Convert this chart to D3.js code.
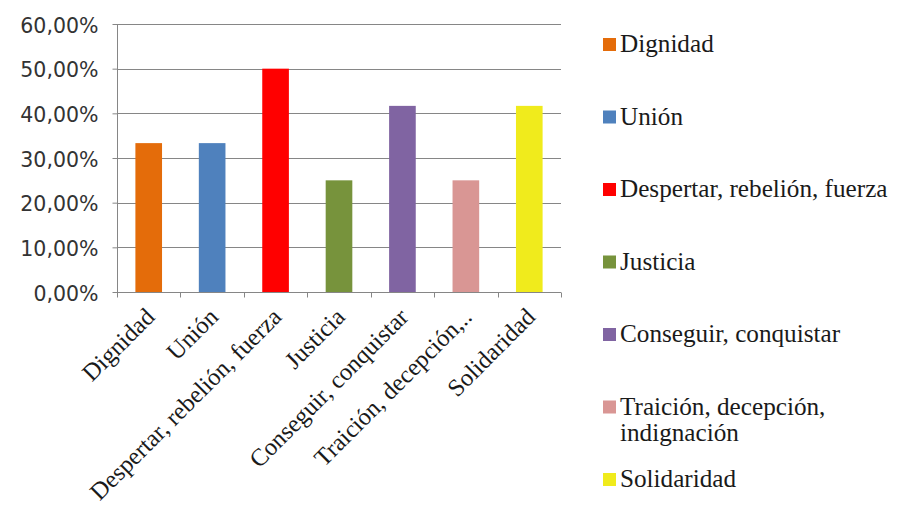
<!DOCTYPE html>
<html>
<head>
<meta charset="utf-8">
<script src="https://cdn.jsdelivr.net/npm/d3@7"></script>
<style>
html,body{margin:0;padding:0;background:#fff;}
svg{display:block;}
.serif{font-family:'Liberation Serif','Times New Roman',serif;}
</style>
</head>
<body>
<svg id="chart" width="898" height="508"></svg>
<script>
const categories = ["Dignidad", "Unión", "Despertar, rebelión, fuerza", "Justicia", "Conseguir, conquistar", "Traición, decepción, indignación", "Solidaridad"];
const axisLabels = ["Dignidad", "Unión", "Despertar, rebelión, fuerza", "Justicia", "Conseguir, conquistar", "Traición, decepción,..", "Solidaridad"];
const legendLines = [["Dignidad"], ["Unión"], ["Despertar, rebelión, fuerza"], ["Justicia"], ["Conseguir, conquistar"], ["Traición, decepción,", "indignación"], ["Solidaridad"]];
const values = [0.3333, 0.3333, 0.5, 0.25, 0.4167, 0.25, 0.4167];
const colors = ["#E46C0A", "#4F81BD", "#FF0000", "#77933C", "#8064A2", "#D99694", "#F0EB1C"];
const yTicks = [0, 0.1, 0.2, 0.3, 0.4, 0.5, 0.6];

(function () {
const svg = d3.select("#chart");
const pL = 117, pR = 561, pT = 24, pB = 292;

const x = d3.scaleBand().domain(categories).range([pL, pR]).padding(0);
const y = d3.scaleLinear().domain([0, 0.6]).range([pB, pT]);
const fmt = v => d3.format(".2f")(v * 100).replace(".", ",") + "%";

// gridlines
svg.append("g").selectAll("line").data(yTicks.filter(d => d > 0)).join("line")
  .attr("x1", pL).attr("x2", pR)
  .attr("y1", d => Math.round(y(d)) + 0.5).attr("y2", d => Math.round(y(d)) + 0.5)
  .attr("stroke", "#868686").attr("stroke-width", 1);

// y axis
const yAxis = d3.axisLeft(y).tickValues(yTicks).tickFormat(fmt).tickSize(5).tickPadding(14);
const ya = svg.append("g").attr("transform", `translate(${pL + 0.5},0)`).call(yAxis);
ya.select(".domain").attr("stroke", "#868686").attr("d", `M0,${pT + 0.5}V${pB + 0.5}`);
ya.selectAll(".tick line").attr("stroke", "#868686");
ya.selectAll(".tick text").attr("font-family", "DejaVu Sans, Verdana, sans-serif")
  .attr("font-size", 20.5).attr("fill", "#333333").attr("dy", "0.4em");

// bars
const bw = x.bandwidth() * 0.42;
svg.append("g").selectAll("rect").data(categories).join("rect")
  .attr("x", (d) => x(d) + x.bandwidth() / 2 - bw / 2)
  .attr("width", bw)
  .attr("y", (d, i) => y(values[i]))
  .attr("height", (d, i) => y(0) - y(values[i]))
  .attr("fill", (d, i) => colors[i]);

// x axis
const xa = svg.append("g").attr("transform", `translate(0,${pB + 0.5})`);
xa.append("line").attr("x1", pL).attr("x2", pR).attr("stroke", "#868686");
const bounds = categories.map(c => x(c)).concat([pR]);
xa.selectAll("line.tk").data(bounds).join("line").attr("class", "tk")
  .attr("x1", d => Math.round(d) + 0.5).attr("x2", d => Math.round(d) + 0.5)
  .attr("y1", 0).attr("y2", 5).attr("stroke", "#868686");

svg.append("g").selectAll("text").data(categories).join("text")
  .attr("class", "serif")
  .attr("transform", d => `translate(${x(d) + x.bandwidth() / 2 - 5},${pB + 14}) rotate(-45)`)
  .attr("text-anchor", "end").attr("dy", "0.72em")
  .attr("font-size", 24.4).attr("fill", "#1a1a1a")
  .text((d, i) => axisLabels[i]);

// legend
const lg = svg.append("g");
legendLines.forEach((lines, i) => {
  const by = 52 + i * 72.5;
  lg.append("rect").attr("x", 603).attr("y", by - 14).attr("width", 13).attr("height", 13).attr("fill", colors[i]);
  const t = lg.append("text").attr("class", "serif").attr("x", 620).attr("y", by)
    .attr("font-size", 25.2).attr("fill", "#1a1a1a");
  lines.forEach((ln, j) => t.append("tspan").attr("x", 620).attr("dy", j === 0 ? 0 : 26).text(ln));
});
})();
</script>
</body>
</html>
